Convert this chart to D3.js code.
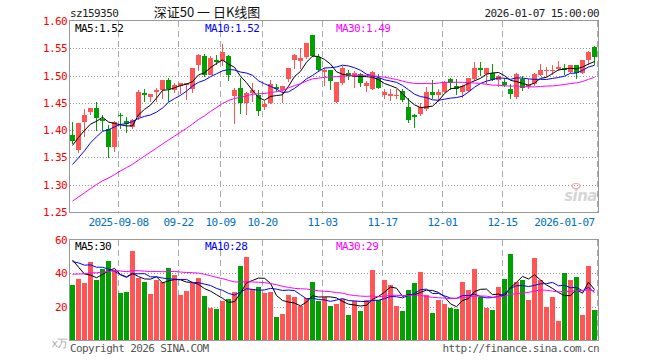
<!DOCTYPE html>
<html>
<head>
<meta charset="utf-8">
<script src="https://cdn.jsdelivr.net/npm/d3@7"></script>
<style>
  body { margin: 0; background: #fff; }
  svg { display: block; }
  text { font-family: "DejaVu Sans Mono", monospace; font-size: 11px; letter-spacing: -0.6px; }
</style>
</head>
<body>
<div id="chart"></div>
<script>
// trading days shown
const dates = [
  "2025-08-27","2025-08-28","2025-08-29",
  "2025-09-01","2025-09-02","2025-09-03","2025-09-04","2025-09-05","2025-09-08","2025-09-09","2025-09-10","2025-09-11","2025-09-12",
  "2025-09-15","2025-09-16","2025-09-17","2025-09-18","2025-09-19","2025-09-22","2025-09-23","2025-09-24","2025-09-25","2025-09-26",
  "2025-09-29","2025-09-30",
  "2025-10-09","2025-10-10","2025-10-13","2025-10-14","2025-10-15","2025-10-16","2025-10-17","2025-10-20","2025-10-21","2025-10-22",
  "2025-10-23","2025-10-24","2025-10-27","2025-10-28","2025-10-29","2025-10-30","2025-10-31",
  "2025-11-03","2025-11-04","2025-11-05","2025-11-06","2025-11-07","2025-11-10","2025-11-11","2025-11-12","2025-11-13","2025-11-14",
  "2025-11-17","2025-11-18","2025-11-19","2025-11-20","2025-11-21","2025-11-24","2025-11-25","2025-11-26","2025-11-27","2025-11-28",
  "2025-12-01","2025-12-02","2025-12-03","2025-12-04","2025-12-05","2025-12-08","2025-12-09","2025-12-10","2025-12-11","2025-12-12",
  "2025-12-15","2025-12-16","2025-12-17","2025-12-18","2025-12-19","2025-12-22","2025-12-23","2025-12-24","2025-12-25","2025-12-26",
  "2025-12-29","2025-12-30","2025-12-31",
  "2026-01-05","2026-01-06","2026-01-07"
];

const opens = [1.391,1.364,1.415,1.432,1.440,1.420,1.402,1.369,1.428,1.416,
  1.406,1.424,1.468,1.461,1.470,1.473,1.491,1.473,1.481,1.484,
  1.475,1.519,1.536,1.502,1.529,1.527,1.535,1.462,1.478,1.450,
  1.467,1.465,1.443,1.450,1.479,1.472,1.493,1.527,1.528,1.533,
  1.574,1.534,1.507,1.510,1.452,1.485,1.505,1.497,1.502,1.482,
  1.476,1.496,1.464,1.464,1.464,1.472,1.443,1.427,1.430,1.438,
  1.470,1.464,1.470,1.494,1.480,1.470,1.473,1.493,1.514,1.502,
  1.505,1.493,1.489,1.476,1.459,1.493,1.479,1.484,1.502,1.510,
  1.510,1.513,1.514,1.507,1.519,1.505,1.528,1.553];

const highs = [1.415,1.414,1.438,1.441,1.452,1.428,1.410,1.416,1.432,1.424,
  1.421,1.473,1.476,1.467,1.478,1.492,1.496,1.487,1.487,1.487,
  1.514,1.540,1.539,1.536,1.537,1.557,1.537,1.478,1.496,1.470,
  1.487,1.473,1.453,1.491,1.485,1.481,1.514,1.539,1.550,1.560,
  1.575,1.539,1.514,1.511,1.489,1.518,1.510,1.508,1.505,1.490,
  1.508,1.502,1.476,1.475,1.476,1.476,1.458,1.430,1.450,1.479,
  1.491,1.475,1.490,1.495,1.494,1.482,1.496,1.524,1.525,1.514,
  1.522,1.501,1.496,1.485,1.505,1.499,1.493,1.504,1.522,1.516,
  1.519,1.527,1.521,1.520,1.520,1.529,1.545,1.554];

const lows = [1.377,1.360,1.390,1.429,1.401,1.401,1.351,1.361,1.404,1.396,
  1.404,1.420,1.454,1.454,1.453,1.459,1.453,1.470,1.468,1.457,
  1.470,1.510,1.500,1.502,1.521,1.520,1.492,1.413,1.432,1.430,
  1.454,1.427,1.438,1.449,1.472,1.452,1.490,1.513,1.514,1.532,
  1.535,1.508,1.483,1.476,1.451,1.484,1.493,1.479,1.480,1.472,
  1.475,1.477,1.458,1.456,1.458,1.454,1.415,1.405,1.428,1.437,
  1.459,1.454,1.469,1.475,1.467,1.461,1.472,1.492,1.501,1.487,
  1.491,1.481,1.480,1.458,1.458,1.473,1.478,1.483,1.501,1.499,
  1.502,1.510,1.502,1.506,1.495,1.504,1.522,1.522];

const closes = [1.380,1.413,1.427,1.440,1.421,1.417,1.369,1.415,1.427,1.410,
  1.419,1.470,1.464,1.467,1.473,1.491,1.475,1.482,1.487,1.487,
  1.513,1.537,1.502,1.533,1.526,1.544,1.500,1.473,1.450,1.468,
  1.473,1.435,1.448,1.485,1.476,1.480,1.513,1.537,1.533,1.559,
  1.536,1.510,1.510,1.490,1.489,1.513,1.499,1.505,1.486,1.487,
  1.507,1.478,1.469,1.467,1.465,1.456,1.420,1.424,1.442,1.470,
  1.464,1.470,1.489,1.487,1.475,1.481,1.496,1.513,1.510,1.513,
  1.492,1.500,1.484,1.467,1.502,1.476,1.483,1.503,1.511,1.511,
  1.511,1.516,1.510,1.519,1.505,1.528,1.543,1.534];

// volume, in 万
const volumes = [33,36.6,34.4,46.8,36,42.6,47.4,42,28.4,29,
  53.4,37.4,35,27.8,36.2,35,43.2,39.2,27,29.4,
  34.2,37.2,26.4,19.4,18.6,23.6,24.6,29,44.4,50,
  30.6,31.8,28.4,29,13.8,15.6,27,25.6,20.4,25,
  34.8,23.2,26,20.4,21.8,24.4,15,23.4,17.4,24,
  42,24,36,33,20.4,17.4,30,34.4,40.8,27,
  16.4,24,21.6,19.4,18.6,34.8,30,42.6,26,19.4,
  18,31.8,36.6,51.6,34.8,36,24,49.2,36,19.8,
  25.8,11.4,40.2,36,37.8,15,44.6,18];

// days before the window, only used to start the moving averages
const prevCloses = [1.190,1.198,1.205,1.200,1.212,1.218,1.225,1.221,1.230,1.236,
  1.242,1.238,1.250,1.256,1.262,1.258,1.268,1.274,1.270,1.277,
  1.290,1.298,1.295,1.310,1.317,1.340,1.362,1.383,1.395];
const prevVolumes = [30,33,29,34,31,32,31,35,40,36,
  38,42,37,34,39,41,36,38,37,39,
  44,48,45,50,43,58,55,50,44];

const priceTicks = [1.60,1.55,1.50,1.45,1.40,1.35,1.30,1.25];
const volTicks = [60,40,20];
const tickDates = ["2025-09-08","2025-09-22","2025-10-09","2025-10-20","2025-11-03","2025-11-17","2025-12-01","2025-12-15","2026-01-07"];
const tickLabels = ["2025-09-08","09-22","10-09","10-20","11-03","11-17","12-01","12-15","2026-01-07"];

const priceMaText = ["MA5:1.52", "MA10:1.52", "MA30:1.49"];
const volMaText = ["MA5:30", "MA10:28", "MA30:29"];

// layout
const width = 660, height = 360;
const left = 70, right = 598;
const pTop = 21, pBottom = 212;
const vTop = 240, vBottom = 340;
const red = "#ff5555", green = "#00a000";
const maColors = ["#000000", "#0000ff", "#ff00ff"];

const svg = d3.select("#chart").append("svg")
  .attr("width", width)
  .attr("height", height);

const n = dates.length;
const x = d3.scaleBand()
  .domain(d3.range(n))
  .range([left, right])
  .paddingInner(1 / 6)
  .paddingOuter(1 / 12)
  .align(0);
const bw = x.bandwidth();
const cx = i => x(i) + bw / 2;

const y = d3.scaleLinear().domain([1.25, 1.60]).range([pBottom, pTop]);
const yv = d3.scaleLinear().domain([0, 60]).range([vBottom, vTop]);

function movingAvg(prev, vals, k) {
  const all = prev.concat(vals);
  return vals.map((_, i) => d3.mean(all.slice(prev.length + i - k + 1, prev.length + i + 1)));
}

const isUp = i => closes[i] >= opens[i];
const tickIdx = tickDates.map(d => dates.indexOf(d));
const tickX = tickIdx.map((i, k) => Math.round(x(i) + (k === tickIdx.length - 1 ? bw : 0)) + 0.5);

// ---- header
svg.append("text").attr("x", left).attr("y", 17).attr("fill", "#222").text("sz159350");
svg.append("text").attr("x", 207).attr("y", 17)
  .attr("text-anchor", "middle")
  .style("font-family", "'Noto Sans CJK SC', sans-serif")
  .style("font-size", "13px")
  .style("letter-spacing", "0px")
  .attr("fill", "#111")
  .text("深证50 一 日K线图");
svg.append("text").attr("x", right + 1).attr("y", 17).attr("text-anchor", "end").attr("fill", "#222")
  .text("2026-01-07 15:00:00");

// ---- panel frames and grids
function panel(top, bottom, gridVals, scale) {
  const g = svg.append("g").attr("shape-rendering", "crispEdges");
  g.selectAll(".hg").data(gridVals).enter().append("line")
    .attr("x1", left).attr("x2", right)
    .attr("y1", d => Math.round(scale(d)) + 0.5)
    .attr("y2", d => Math.round(scale(d)) + 0.5)
    .attr("stroke", "#999").attr("stroke-dasharray", "1,2");
  g.selectAll(".vg").data(tickX).enter().append("line")
    .attr("x1", d => d).attr("x2", d => d)
    .attr("y1", top).attr("y2", bottom)
    .attr("stroke", "#aaa").attr("stroke-dasharray", "6,4");
  g.append("rect")
    .attr("x", left - 0.5).attr("y", top - 0.5)
    .attr("width", right - left + 1).attr("height", bottom - top + 1)
    .attr("fill", "none").attr("stroke", "#999");
}
panel(pTop, pBottom, [1.55, 1.50, 1.45, 1.40, 1.35, 1.30], y);
panel(vTop, vBottom, [40, 20], yv);

// sina mark
svg.append("text").attr("x", right - 1).attr("y", 201).attr("text-anchor", "end")
  .style("font-family", "'DejaVu Sans', sans-serif")
  .style("font-size", "15px").style("font-weight", "bold").style("font-style", "italic")
  .style("letter-spacing", "-0.5px")
  .attr("fill", "#d6d6d6").text("sina");
svg.append("ellipse").attr("cx", 576).attr("cy", 186).attr("rx", 4).attr("ry", 2.5)
  .attr("fill", "none").attr("stroke", "#e6b0b0").attr("stroke-width", 1.2);

// ---- price axis labels
svg.selectAll(".py").data(priceTicks).enter().append("text")
  .attr("x", 67).attr("y", d => y(d) + 4)
  .attr("text-anchor", "end").attr("fill", "#ff0000")
  .text(d => d.toFixed(2));

// ---- date labels
svg.selectAll(".dx").data(tickLabels).enter().append("text")
  .attr("x", (d, k) => k === tickLabels.length - 1 ? tickX[k] - 3 : tickX[k])
  .attr("y", 226)
  .attr("text-anchor", (d, k) => k === tickLabels.length - 1 ? "end" : "middle")
  .attr("fill", "#0070c0")
  .text(d => d);

// ---- candles
const candles = svg.append("g").attr("shape-rendering", "crispEdges");
candles.selectAll(".wick").data(d3.range(n)).enter().append("line")
  .attr("x1", i => x(i) + 2.5).attr("x2", i => x(i) + 2.5)
  .attr("y1", i => Math.round(y(highs[i])))
  .attr("y2", i => Math.round(y(lows[i])) + 1)
  .attr("stroke", i => isUp(i) ? red : green);
candles.selectAll(".body").data(d3.range(n)).enter().append("rect")
  .attr("x", i => x(i))
  .attr("width", bw)
  .attr("y", i => Math.round(y(Math.max(opens[i], closes[i]))))
  .attr("height", i => Math.max(1, Math.round(Math.abs(y(opens[i]) - y(closes[i])))))
  .attr("fill", i => isUp(i) ? red : green);

// ---- volume bars
svg.append("g").attr("shape-rendering", "crispEdges")
  .selectAll("rect").data(volumes).enter().append("rect")
  .attr("x", (d, i) => x(i))
  .attr("width", bw)
  .attr("y", d => Math.round(yv(d)))
  .attr("height", d => vBottom - Math.round(yv(d)))
  .attr("fill", (d, i) => isUp(i) ? red : green);

// ---- moving averages
const priceLine = d3.line().x((d, i) => cx(i)).y(d => y(d));
const volLine = d3.line().x((d, i) => cx(i)).y(d => yv(d));
[5, 10, 30].forEach((k, j) => {
  svg.append("path")
    .datum(movingAvg(prevCloses, closes, k))
    .attr("fill", "none").attr("stroke", maColors[j]).attr("stroke-width", 1)
    .attr("d", priceLine);
  svg.append("path")
    .datum(movingAvg(prevVolumes, volumes, k))
    .attr("fill", "none").attr("stroke", maColors[j]).attr("stroke-width", 1)
    .attr("d", volLine);
});

// ---- MA legends
const legendX = [75, 205, 336];
priceMaText.forEach((t, j) => {
  svg.append("text").attr("x", legendX[j]).attr("y", 32).attr("fill", maColors[j]).text(t);
});
volMaText.forEach((t, j) => {
  svg.append("text").attr("x", legendX[j]).attr("y", 250).attr("fill", maColors[j]).text(t);
});

// ---- volume axis labels
svg.selectAll(".vy").data(volTicks).enter().append("text")
  .attr("x", 67).attr("y", d => yv(d) + 4)
  .attr("text-anchor", "end").attr("fill", "#ff0000")
  .text(d => d);
svg.append("text").attr("x", 67).attr("y", 347).attr("text-anchor", "end")
  .attr("fill", "#aaa").style("letter-spacing", "-1px").text("x万");

// ---- footer
svg.append("text").attr("x", left).attr("y", 352).attr("fill", "#555").text("Copyright 2026 SINA.COM");
svg.append("text").attr("x", right + 1).attr("y", 352).attr("text-anchor", "end").attr("fill", "#555")
  .text("http://finance.sina.com.cn");
</script>
</body>
</html>
